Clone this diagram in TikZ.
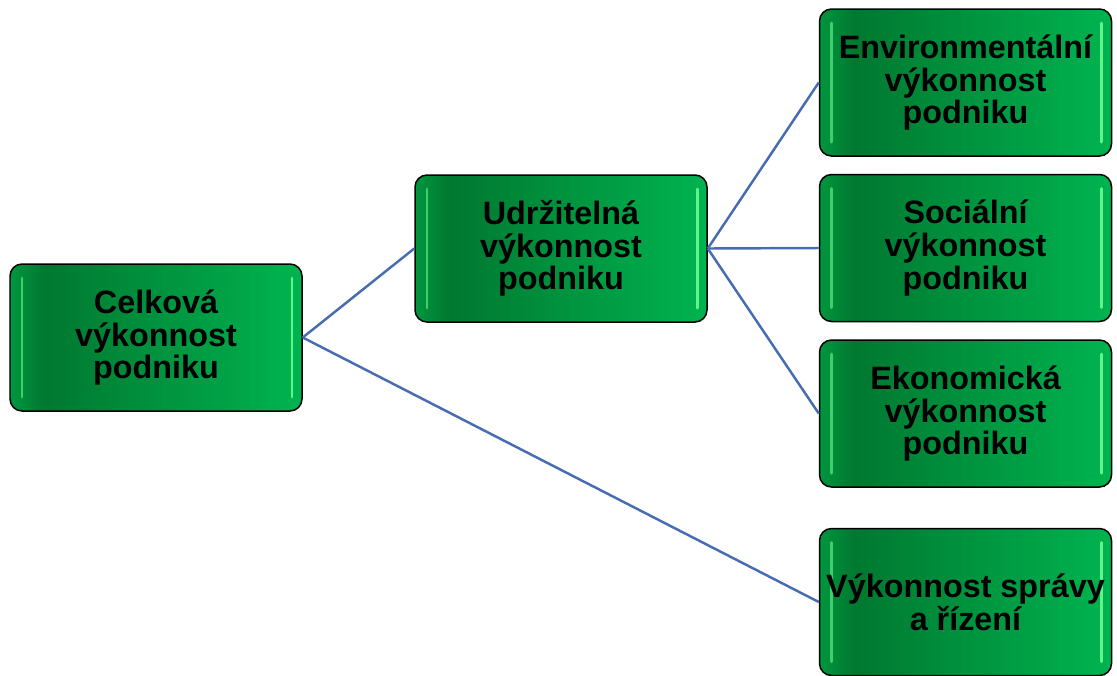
\documentclass[tikz,border=0pt]{standalone}
\usepackage{fontspec}
\setmainfont{Liberation Sans}
\usetikzlibrary{positioning, calc}

\definecolor{boxEdge}{RGB}{0,150,62}
\definecolor{boxDark}{RGB}{0,120,48}
\definecolor{boxLight}{RGB}{0,180,80}
\definecolor{boxShine}{RGB}{95,245,135}
\definecolor{linkBlue}{RGB}{72,108,178}

\pgfdeclarehorizontalshading{boxshade}{100bp}{color(0bp)=(boxEdge); color(25bp)=(boxEdge); color(31bp)=(boxDark); color(75bp)=(boxLight); color(100bp)=(boxLight)}

\tikzset{
    shine/.style={draw=boxShine, line width=1.7pt, line cap=round},
    link/.style={draw=linkBlue, line width=1.4pt},
    perfbox/.style={draw=black, line width=0.85pt, rounded corners=0.24cm,
        shading=boxshade, minimum width=5.84cm, minimum height=2.94cm,
        inner sep=0pt, align=center,
        font=\fontsize{18.4pt}{18.6pt}\selectfont\bfseries,
        path picture={
            \draw[shine, opacity=0.65] ([xshift=0.24cm,yshift=-0.28cm]path picture bounding box.north west) -- ([xshift=0.24cm,yshift=0.28cm]path picture bounding box.south west);
            \draw[shine] ([xshift=-0.2cm,yshift=-0.28cm]path picture bounding box.north east) -- ([xshift=-0.2cm,yshift=0.28cm]path picture bounding box.south east);
        }}
}

\begin{document}
\begin{tikzpicture}
            \useasboundingbox (0,0) rectangle (22.34,-13.5);

            \node[perfbox] (cel) at (3.12,-6.75) {Celková\\výkonnost\\podniku};
            \node[perfbox] (udr) at (11.22,-4.97) {Udržitelná\\výkonnost\\podniku};

            \node[perfbox] (env) at (19.31,-1.65) {Environmentální\\výkonnost\\podniku};
            \node[perfbox] (soc) at (19.31,-4.96) {Sociální\\výkonnost\\podniku};
            \node[perfbox] (eko) at (19.31,-8.27) {Ekonomická\\výkonnost\\podniku};
            \node[perfbox] (vyk) at (19.31,-12.04) {Výkonnost správy\\a řízení};

            \draw[link] (cel.east) -- (udr.west);
            \draw[link] (cel.east) -- (vyk.west);
            \foreach \x in {env,soc,eko}
            {
                \draw[link] (udr.east) -- (\x.west);
            }
\end{tikzpicture}
\end{document}
